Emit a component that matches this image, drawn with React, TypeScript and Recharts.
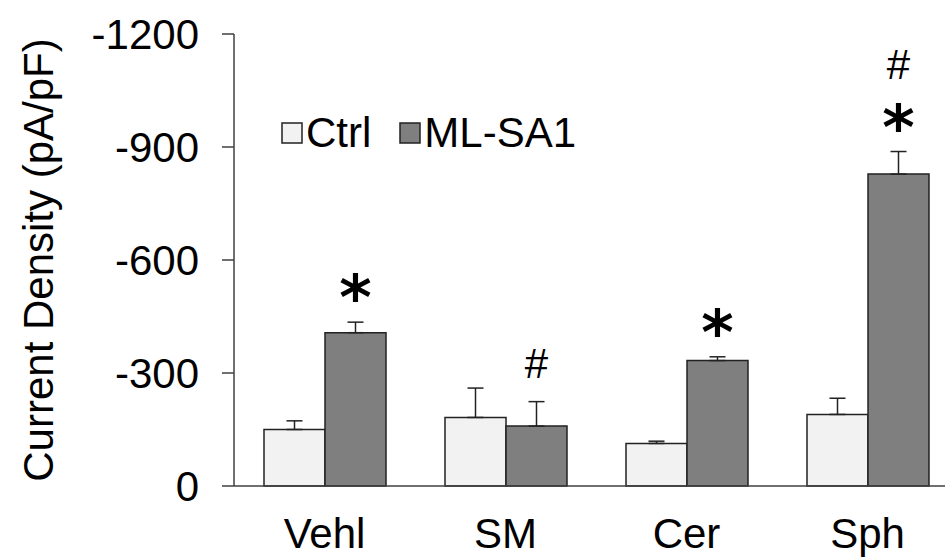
import { Bar, BarChart, ErrorBar, LabelList, XAxis, YAxis } from "recharts";

const categories = ["Vehl", "SM", "Cer", "Sph"];
const ctrlValues = [-150, -182, -113, -190];
const ctrlErrors = [23, 78, 6, 43];
const mlsa1Values = [-407, -159, -333, -828];
const mlsa1Errors = [28, 65, 10, 60];
// significance marks above each ML-SA1 bar, bottom to top
const marks = [["*"], ["#"], ["*"], ["*", "#"]];
const yTicks = [-1200, -900, -600, -300, 0];

const FONT = "'Liberation Sans', Arial, sans-serif";
const STAR_FONT = "'DejaVu Sans', sans-serif";
const CTRL_FILL = "#f2f2f2";
const MLSA1_FILL = "#7f7f7f";
const OUTLINE = "#222";

const data = categories.map((name, i) => ({
  name,
  ctrl: ctrlValues[i],
  ctrlErr: ctrlErrors[i],
  mlsa1: mlsa1Values[i],
  mlsa1Err: mlsa1Errors[i],
}));

function MarkLabel(props: any) {
  const { x, y, width, height, index } = props;
  const i = index ?? 0;
  const top = Math.min(y, y + height);
  const h = Math.abs(height);
  const v = Math.abs(mlsa1Values[i]);
  const errPx = v ? (mlsa1Errors[i] * h) / v : 0;
  const cx = x + width / 2;
  const base = top - errPx - 39;
  return (
    <g>
      {marks[i].map((m, k) => {
        const cy = base - k * 49;
        return m === "*" ? (
          <text key={k} x={cx} y={cy + 36} textAnchor="middle" fontFamily={STAR_FONT}
            fontWeight="bold" fontSize={62} fill="#000">
            *
          </text>
        ) : (
          <text key={k} x={cx} y={cy + 15} textAnchor="middle" fontFamily={FONT}
            fontSize={42} fill="#000">
            #
          </text>
        );
      })}
    </g>
  );
}

function LegendBox({ color, label }: { color: string; label: string }) {
  return (
    <span style={{ display: "inline-flex", alignItems: "center", marginRight: 28 }}>
      <svg width={22} height={22} style={{ marginRight: 3 }}>
        <rect x={1} y={1} width={20} height={20} fill={color} stroke={OUTLINE} strokeWidth={1.5} />
      </svg>
      <span>{label}</span>
    </span>
  );
}

export default function App() {
  return (
    <div
      style={{
        position: "absolute",
        left: 0,
        top: 0,
        width: 945,
        height: 558,
        overflow: "hidden",
        background: "#fff",
        fontFamily: FONT,
      }}
    >
      <BarChart
        width={960}
        height={558}
        data={data}
        margin={{ top: 34, right: 2, left: 0, bottom: 0 }}
        barCategoryGap={30}
        barGap={0}
      >
        <XAxis
          dataKey="name"
          height={72}
          tickLine={false}
          tickSize={0}
          tickMargin={32}
          axisLine={{ stroke: "#404040", strokeWidth: 1.5 }}
          tick={{ fontSize: 42, fill: "#000", fontFamily: FONT }}
        />
        <YAxis
          width={234}
          reversed
          domain={[-1200, 0]}
          ticks={yTicks}
          interval={0}
          tickSize={12}
          tickMargin={23}
          axisLine={{ stroke: "#404040", strokeWidth: 1.5 }}
          tickLine={{ stroke: "#404040", strokeWidth: 1.5 }}
          tick={{ fontSize: 42, fill: "#000", fontFamily: FONT }}
          label={{
            value: "Current Density (pA/pF)",
            angle: -90,
            position: "insideLeft",
            offset: 38,
            style: { textAnchor: "middle", fontSize: 42, fill: "#000", fontFamily: FONT },
          }}
        />
        <Bar dataKey="ctrl" name="Ctrl" fill={CTRL_FILL} stroke={OUTLINE} strokeWidth={1.5}
          isAnimationActive={false}>
          <ErrorBar dataKey={(d: any) => [d.ctrlErr, 0]} width={8} stroke={OUTLINE}
            strokeWidth={1.5} />
        </Bar>
        <Bar dataKey="mlsa1" name="ML-SA1" fill={MLSA1_FILL} stroke={OUTLINE} strokeWidth={1.5}
          isAnimationActive={false}>
          <ErrorBar dataKey={(d: any) => [d.mlsa1Err, 0]} width={8} stroke={OUTLINE}
            strokeWidth={1.5} />
          <LabelList dataKey="mlsa1" content={<MarkLabel />} />
        </Bar>
      </BarChart>
      <div
        style={{
          position: "absolute",
          left: 281,
          top: 112,
          fontSize: 42,
          color: "#000",
          lineHeight: 1,
          whiteSpace: "nowrap",
          display: "flex",
          alignItems: "center",
        }}
      >
        <LegendBox color={CTRL_FILL} label="Ctrl" />
        <LegendBox color={MLSA1_FILL} label="ML-SA1" />
      </div>
    </div>
  );
}
